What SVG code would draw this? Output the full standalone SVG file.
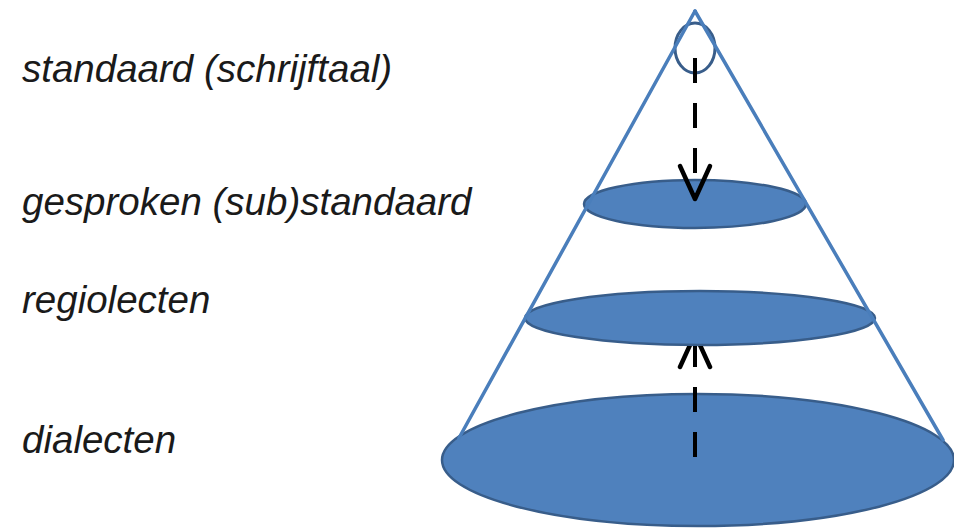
<svg xmlns="http://www.w3.org/2000/svg" width="954" height="528" viewBox="0 0 954 528">
<style>
.lbl{font-family:"Liberation Sans",Arial,sans-serif;font-style:italic;font-size:38.5px;fill:#1a1a1a}
.disc{fill:#4f81bd;stroke:#385d8a;stroke-width:2.5}
.cone{stroke:#4a7ebb;stroke-width:3.5;fill:none;stroke-linecap:round}
.dash{stroke:#000;stroke-width:4;stroke-dasharray:25 20;fill:none}
</style>
<defs>
<marker id="vhead" markerUnits="userSpaceOnUse" orient="auto" refX="0" refY="0" markerWidth="40" markerHeight="40" overflow="visible">
<path d="M-33,-15 L0,0 L-33,15" fill="none" stroke="#000" stroke-width="4.5" stroke-linecap="round" stroke-linejoin="round"/>
</marker>
<clipPath id="belowMid"><rect x="600" y="346" width="200" height="182"/></clipPath>
</defs>
<rect width="954" height="528" fill="#fff"/>
<g id="label-standaard"><text class="lbl" x="22" y="82">standaard (schrijftaal)</text></g>
<g id="label-gesproken"><text class="lbl" x="22" y="215">gesproken (sub)standaard</text></g>
<g id="label-regiolecten"><text class="lbl" x="22" y="313">regiolecten</text></g>
<g id="label-dialecten"><text class="lbl" x="22" y="453">dialecten</text></g>
<g id="dialecten"><ellipse class="disc" cx="698" cy="460" rx="256" ry="66"/></g>
<g id="regiolecten"><ellipse class="disc" cx="700" cy="318" rx="175" ry="27"/></g>
<g id="gesproken"><ellipse class="disc" cx="695" cy="204" rx="111" ry="24"/></g>
<g id="standaard"><ellipse cx="695" cy="48" rx="20" ry="25" fill="none" stroke="#385d8a" stroke-width="3"/></g>
<g id="connectors">
<line class="dash" x1="695" y1="58" x2="695" y2="199" marker-end="url(#vhead)"/>
<g clip-path="url(#belowMid)"><line class="dash" x1="695" y1="457" x2="695" y2="334" marker-end="url(#vhead)"/></g>
</g>
<g id="cone">
<line class="cone" x1="695" y1="11" x2="459" y2="438"/>
<line class="cone" x1="695" y1="11" x2="943" y2="440"/>
</g>
</svg>
